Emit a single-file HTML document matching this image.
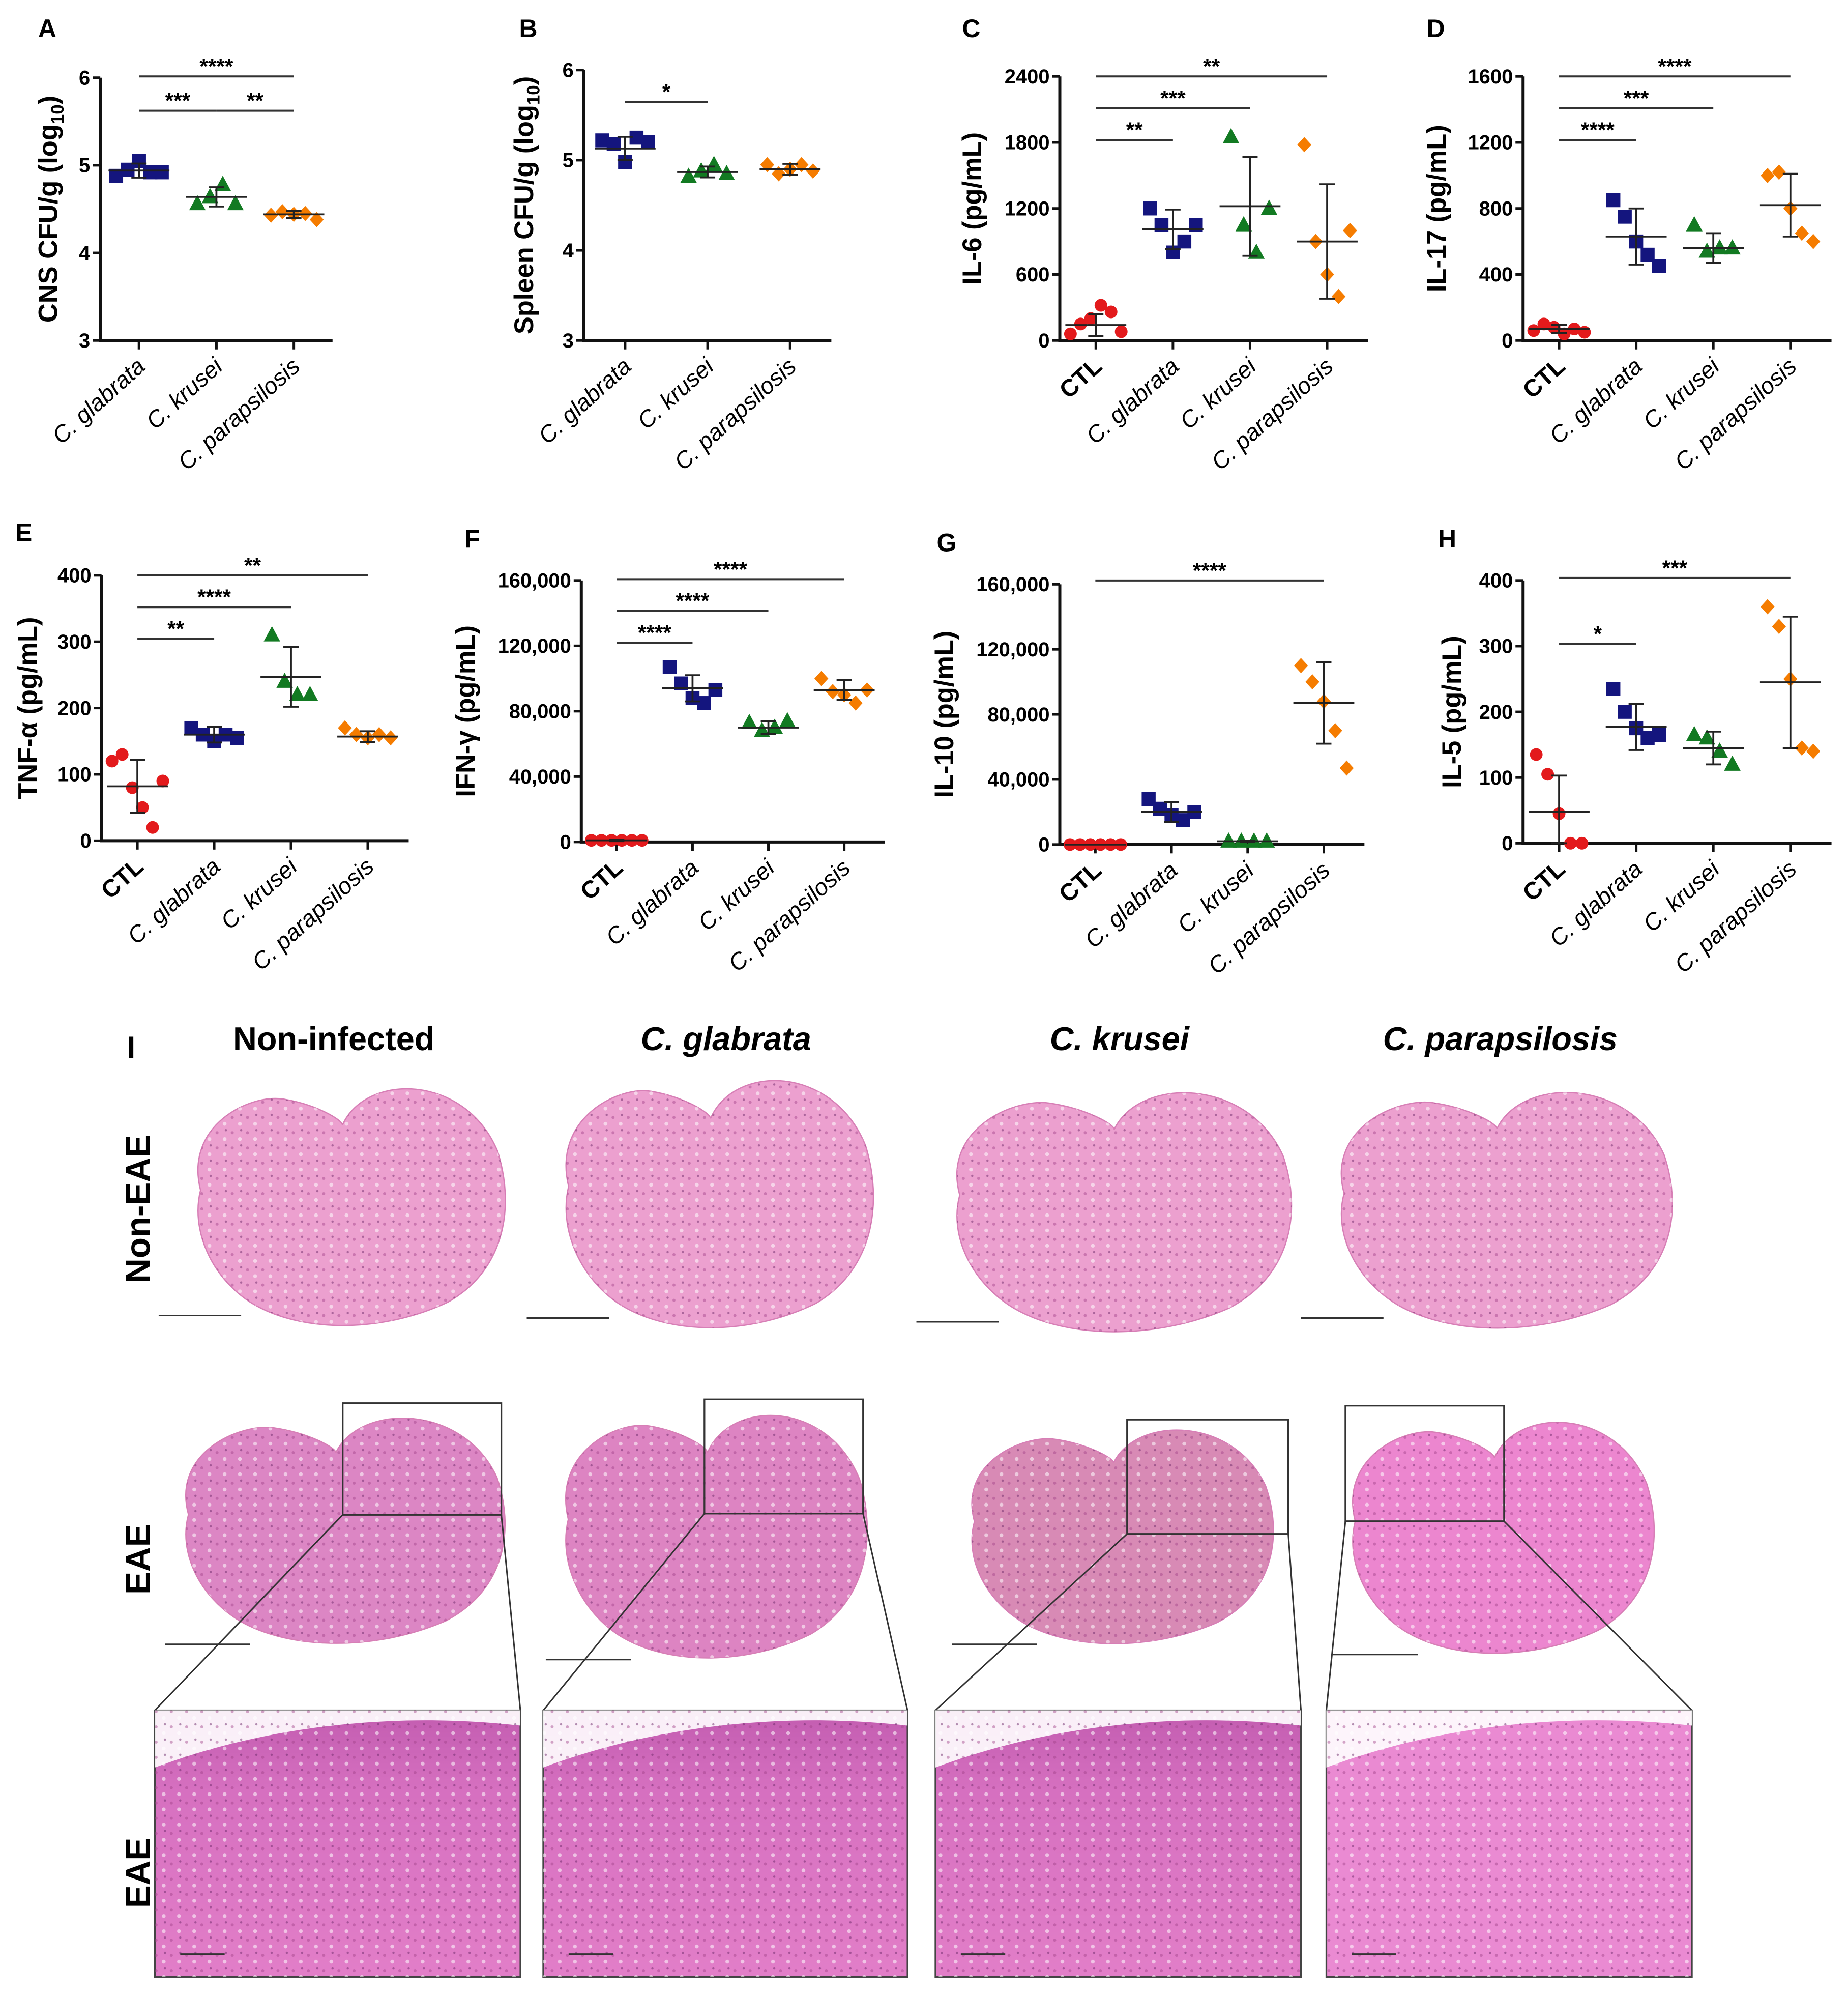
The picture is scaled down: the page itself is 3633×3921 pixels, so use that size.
<!DOCTYPE html>
<html><head><meta charset="utf-8"><style>
html,body{margin:0;padding:0;background:#fff;}
svg{display:block;}
text{font-family:"Liberation Sans",sans-serif;}
</style></head><body>
<svg id="fig" width="3633" height="3921" viewBox="0 0 1456 1571" xmlns="http://www.w3.org/2000/svg">
<defs>
<pattern id="tex" width="12" height="12" patternUnits="userSpaceOnUse">
<rect width="12" height="12" fill="none"/>
<circle cx="3" cy="4" r="1.2" fill="#a04088" opacity="0.45"/>
<circle cx="9" cy="9" r="1.5" fill="#fff" opacity="0.55"/>
<circle cx="10" cy="2" r="0.9" fill="#6a2868" opacity="0.5"/>
</pattern>
<linearGradient id="zoomGrad" x1="0" y1="0" x2="0" y2="1">
<stop offset="0" stop-color="#c25cb0"/><stop offset="0.3" stop-color="#d670c0"/><stop offset="1" stop-color="#e27ec8"/>
</linearGradient>
</defs>
<g id="charts"></g>
<g id="histo"></g>
</svg>
<script>
// ---- data ----
const catsCFU = ["C. glabrata","C. krusei","C. parapsilosis"];
const catsCyt = ["CTL","C. glabrata","C. krusei","C. parapsilosis"];
const A_vals = [[4.88,4.95,5.05,4.92,4.92],[4.56,4.64,4.78,4.56],[4.43,4.47,4.44,4.45,4.38]];
const A_mean = [4.94,4.64,4.44]; const A_sd=[0.08,0.11,0.04];
const B_vals = [[5.22,5.18,4.98,5.25,5.2],[4.82,4.88,4.95,4.85],[4.95,4.85,4.9,4.95,4.88]];
const B_mean = [5.13,4.87,4.9]; const B_sd=[0.13,0.06,0.06];
const C_vals = [[60,150,200,320,260,80],[1200,1050,800,900,1050],[1850,1050,800,1200],[1780,900,600,400,1000]];
const C_mean = [140,1010,1220,900]; const C_sd=[100,180,450,520];
const D_vals = [[60,100,80,40,70,50],[850,750,600,520,450],[700,540,560,560],[1000,1020,800,650,600]];
const D_mean = [70,630,560,820]; const D_sd=[25,170,90,190];
const E_vals = [[120,130,80,50,20,90],[170,160,150,160,155],[310,240,220,220],[170,160,155,160,155]];
const E_mean = [82,160,247,157]; const E_sd=[40,12,45,8];
const F_vals = [[1000,1000,1000,1000,1000,1000],[107000,97000,88000,85000,93000],[73000,68000,70000,74000],[100000,92000,90000,85000,93000]];
const F_mean = [1000,94000,70000,93000]; const F_sd=[500,8000,4000,6000];
const G_vals = [[0,0,0,0,0,0],[28000,22000,18000,15000,20000],[2000,2000,2000,2000],[110000,100000,88000,70000,47000]];
const G_mean = [0,20000,2000,87000]; const G_sd=[0,6000,500,25000];
const H_vals = [[135,105,45,0,0],[235,200,175,160,165],[165,160,140,120],[360,330,250,145,140]];
const H_mean = [48,177,145,245]; const H_sd=[55,35,25,100];

const NS="http://www.w3.org/2000/svg";
const root=document.getElementById('charts');
const colors=["#e31a1c","#14157e","#127a22","#f57c00"];
const shapes=["circle","square","triangle","diamond"];
function mk(tag,attrs,parent){const e=document.createElementNS(NS,tag);for(const k in attrs)e.setAttribute(k,attrs[k]);(parent||root).appendChild(e);return e;}

function chart(o){
  const g=mk('g',{});
  
  
  const y=v=>o.y1-(v-o.min)/(o.max-o.min)*(o.y1-o.y0);
  const L=mk('text',{x:o.lx,y:o.ly,'font-size':20,'font-weight':'bold'},g);L.textContent=o.letter;
  
  
  const ax=mk('path',{d:`M${o.ax} ${o.y0}V${o.y1}H${o.ax2}`,stroke:'#111',fill:'none','stroke-width':2.4},g);
  
  
  o.ticks.forEach((t,i)=>{
    mk('line',{x1:o.ax-6,x2:o.ax,y1:y(t),y2:y(t),stroke:'#111','stroke-width':2},g);
    const tx=mk('text',{x:o.ax-8,y:y(t)+5.5,'font-size':16,'font-weight':'bold','text-anchor':'end'},g);
    tx.textContent=o.tickLabels[i];
    
    
  });
  const yt=mk('text',{transform:`translate(${o.tx},${(o.y0+o.y1)/2}) rotate(-90)`,'font-size':21,'font-weight':'bold','text-anchor':'middle'},g);
  yt.innerHTML=o.title;
  
  
  const n=o.cats.length, step=(o.ax2-o.ax)/(n+0.0);
  const cx=i=>o.ax+step*(i+0.5)- (n===3?0:2);
  const sOff=n===3?1:0;
  o.cats.forEach((c,i)=>{
    const X=cx(i);
    mk('line',{x1:X,x2:X,y1:o.y1,y2:o.y1+7,stroke:'#111','stroke-width':2},g);
    const ct=mk('text',{transform:`translate(${X+6},${o.y1+22}) rotate(-42)`,'font-size':c==='CTL'?19:18.5,'font-weight':c==='CTL'?'bold':'normal','font-style':c==='CTL'?'normal':'italic','text-anchor':'end'},g);
    ct.textContent=c;
    
    
    const vals=o.vals[i], col=colors[i+sOff], sh=shapes[i+sOff];
    const sp=vals.length>5?8:(vals.length>4?9:10);
    vals.forEach((v,j)=>{
      const px=X+(j-(vals.length-1)/2)*sp, py=y(v);
      let m;
      if(sh==='circle') m=mk('circle',{cx:px,cy:py,r:5,fill:col},g);
      else if(sh==='square') m=mk('rect',{x:px-5.5,y:py-5.5,width:11,height:11,fill:col},g);
      else if(sh==='triangle') m=mk('path',{d:`M${px} ${py-7}L${px+6.5} ${py+5}H${px-6.5}Z`,fill:col},g);
      else m=mk('path',{d:`M${px} ${py-6}L${px+5.5} ${py}L${px} ${py+6}L${px-5.5} ${py}Z`,fill:col},g);
      
      
    });
    const mv=o.mean[i], sd=o.sd[i];
    const eb=mk('path',{d:`M${X-24} ${y(mv)}H${X+24}M${X} ${y(mv+sd)}V${Math.min(o.y1,y(Math.max(o.min,mv-sd)))}M${X-6} ${y(mv+sd)}H${X+6}M${X-6} ${y(Math.max(o.min,mv-sd))}H${X+6}`,stroke:'#222',fill:'none','stroke-width':1.5},g);
    
    
  });
  o.sig.forEach(s=>{
    const a=cx(s[0]),b=cx(s[1]);
    mk('line',{x1:a,x2:b,y1:s[2],y2:s[2],stroke:'#333','stroke-width':1.6},g);
    const st=mk('text',{x:(a+b)/2,y:s[2]-2,'font-size':17,'font-weight':'bold','text-anchor':'middle'},g);
    st.textContent=s[3];
    
    
  });
}
const sub='<tspan>CNS CFU/g (log</tspan><tspan font-size="14" dy="5">10</tspan><tspan dy="-5">)</tspan>';
chart({name:'chart-a-cns-cfu',letter:'A',lx:30,ly:29,ax:79,ax2:262,y0:61,y1:268,min:3,max:6,ticks:[3,4,5,6],tickLabels:['3','4','5','6'],tx:45,title:sub,cats:catsCFU,vals:A_vals,mean:A_mean,sd:A_sd,sig:[[0,2,60,'****'],[0,1,87,'***'],[1,2,87,'**']]});
chart({name:'chart-b-spleen-cfu',letter:'B',lx:409,ly:29,ax:460,ax2:655,y0:55,y1:268,min:3,max:6,ticks:[3,4,5,6],tickLabels:['3','4','5','6'],tx:420,title:'<tspan>Spleen CFU/g (log</tspan><tspan font-size="14" dy="5">10</tspan><tspan dy="-5">)</tspan>',cats:catsCFU,vals:B_vals,mean:B_mean,sd:B_sd,sig:[[0,1,80,'*']]});
chart({name:'chart-c-il6',letter:'C',lx:758,ly:29,ax:835,ax2:1078,y0:60,y1:268,min:0,max:2400,ticks:[0,600,1200,1800,2400],tickLabels:['0','600','1200','1800','2400'],tx:773,title:'IL-6 (pg/mL)',cats:catsCyt,vals:C_vals,mean:C_mean,sd:C_sd,sig:[[0,1,110,'**'],[0,2,85,'***'],[0,3,60,'**']]});
chart({name:'chart-d-il17',letter:'D',lx:1124,ly:29,ax:1200,ax2:1443,y0:60,y1:268,min:0,max:1600,ticks:[0,400,800,1200,1600],tickLabels:['0','400','800','1200','1600'],tx:1139,title:'IL-17 (pg/mL)',cats:catsCyt,vals:D_vals,mean:D_mean,sd:D_sd,sig:[[0,1,110,'****'],[0,2,85,'***'],[0,3,60,'****']]});
chart({name:'chart-e-tnf',letter:'E',lx:12,ly:426,ax:80,ax2:322,y0:453,y1:662,min:0,max:400,ticks:[0,100,200,300,400],tickLabels:['0','100','200','300','400'],tx:29,title:'TNF-α (pg/mL)',cats:catsCyt,vals:E_vals,mean:E_mean,sd:E_sd,sig:[[0,1,503,'**'],[0,2,478,'****'],[0,3,453,'**']]});
chart({name:'chart-f-ifng',letter:'F',lx:366,ly:431,ax:458,ax2:697,y0:457,y1:663,min:0,max:160000,ticks:[0,40000,80000,120000,160000],tickLabels:['0','40,000','80,000','120,000','160,000'],tx:374,title:'IFN-γ (pg/mL)',cats:catsCyt,vals:F_vals,mean:F_mean,sd:F_sd,sig:[[0,1,506,'****'],[0,2,481,'****'],[0,3,456,'****']]});
chart({name:'chart-g-il10',letter:'G',lx:738,ly:434,ax:835,ax2:1075,y0:460,y1:665,min:0,max:160000,ticks:[0,40000,80000,120000,160000],tickLabels:['0','40,000','80,000','120,000','160,000'],tx:751,title:'IL-10 (pg/mL)',cats:catsCyt,vals:G_vals,mean:G_mean,sd:G_sd,sig:[[0,3,457,'****']]});
chart({name:'chart-h-il5',letter:'H',lx:1133,ly:431,ax:1200,ax2:1443,y0:457,y1:664,min:0,max:400,ticks:[0,100,200,300,400],tickLabels:['0','100','200','300','400'],tx:1151,title:'IL-5 (pg/mL)',cats:catsCyt,vals:H_vals,mean:H_mean,sd:H_sd,sig:[[0,1,507,'*'],[0,3,455,'***']]});

// ---- histology ----
const H=document.getElementById('histo');
function hm(tag,attrs){const e=document.createElementNS(NS,tag);for(const k in attrs)e.setAttribute(k,attrs[k]);H.appendChild(e);return e;}
let t=hm('text',{x:100,y:833,'font-size':24,'font-weight':'bold'});t.textContent='I';


const colTitles=[['Non-infected',263,false],['C. glabrata',572,true],['C. krusei',882,true],['C. parapsilosis',1182,true]];
colTitles.forEach(c=>{const e=hm('text',{x:c[1],y:827,'font-size':26,'font-weight':'bold','font-style':c[2]?'italic':'normal','text-anchor':'middle'});e.textContent=c[0];

});
[['Non-EAE',952],['EAE',1228],['EAE',1475]].forEach(r=>{const e=hm('text',{transform:`translate(118,${r[1]}) rotate(-90)`,'font-size':27,'font-weight':'bold','text-anchor':'middle'});e.textContent=r[0];

});
function blob(x0,y0,x1,y1,fill,name){
  const w=x1-x0,h=y1-y0,mx=x0+w*0.48;
  const d=`M${x0+w*0.05} ${y0+h*0.45} C${x0} ${y0+h*0.2} ${x0+w*0.2} ${y0+h*0.08} ${x0+w*0.3} ${y0+h*0.1} C${x0+w*0.4} ${y0+h*0.12} ${mx} ${y0+h*0.18} ${mx} ${y0+h*0.2} C${x0+w*0.55} ${y0} ${x0+w*0.85} ${y0} ${x0+w*0.95} ${y0+h*0.3} C${x1} ${y0+h*0.5} ${x0+w*0.98} ${y0+h*0.75} ${x0+w*0.8} ${y0+h*0.88} C${x0+w*0.6} ${y1} ${x0+w*0.35} ${y1} ${x0+w*0.2} ${y0+h*0.88} C${x0+w*0.08} ${y0+h*0.78} ${x0+w*0.02} ${y0+h*0.6} ${x0+w*0.05} ${y0+h*0.45}Z`;
  const p=hm('path',{d:d,fill:fill,stroke:'#d77fb6','stroke-width':1});
  
  
  hm('path',{d:d,fill:'url(#tex)'});
}
const row1=[[145,845,405,1050],[435,838,695,1052],[742,848,1025,1055],[1045,848,1325,1052]];
row1.forEach(b=>{blob(b[0],b[1],b[2],b[3],'#eca0cf','spinal-cord-section');
 hm('line',{x1:b[0]-20,y1:b[3]-14,x2:b[0]+45,y2:b[3]-14,stroke:'#333','stroke-width':1.2});});
const row2=[[135,1105,405,1300,'#dc86c4'],[435,1102,690,1312,'#dd84c2'],[755,1115,1010,1300,'#d88ab5'],[1055,1108,1310,1308,'#ec86cf']];
row2.forEach(b=>{blob(b[0],b[1],b[2],b[3],b[4],'eae-spinal-cord-section');
 hm('line',{x1:b[0]-5,y1:b[3]-5,x2:b[0]+62,y2:b[3]-5,stroke:'#333','stroke-width':1.2});});
const boxes=[[270,1105,395,1193],[555,1102,680,1192],[888,1118,1015,1208],[1060,1107,1185,1198]];
const zooms=[[122,1347,410,1557],[428,1347,715,1557],[737,1347,1025,1557],[1045,1347,1333,1557]];
boxes.forEach((b,i)=>{
  const r=hm('rect',{x:b[0],y:b[1],width:b[2]-b[0],height:b[3]-b[1],fill:'none',stroke:'#333','stroke-width':1.3});
  
  
  const z=zooms[i];
  hm('line',{x1:b[0],y1:b[3],x2:z[0],y2:z[1],stroke:'#333','stroke-width':1.2});
  hm('line',{x1:b[2],y1:b[3],x2:z[2],y2:z[1],stroke:'#333','stroke-width':1.2});
  const zr=hm('rect',{x:z[0],y:z[1],width:z[2]-z[0],height:z[3]-z[1],fill:i===3?'#ea8ad2':'url(#zoomGrad)',stroke:'#444','stroke-width':1.3});
  
  
  hm('path',{d:`M${z[0]} ${z[1]+45}C${z[0]+80} ${z[1]+15} ${z[0]+180} ${z[1]} ${z[2]} ${z[1]+12}V${z[1]}H${z[0]}Z`,fill:'#fff',opacity:0.9});
  hm('rect',{x:z[0],y:z[1],width:z[2]-z[0],height:z[3]-z[1],fill:'url(#tex)'});
  hm('line',{x1:z[0]+20,y1:z[3]-18,x2:z[0]+55,y2:z[3]-18,stroke:'#333','stroke-width':1.2});
});
</script>
</body></html>
